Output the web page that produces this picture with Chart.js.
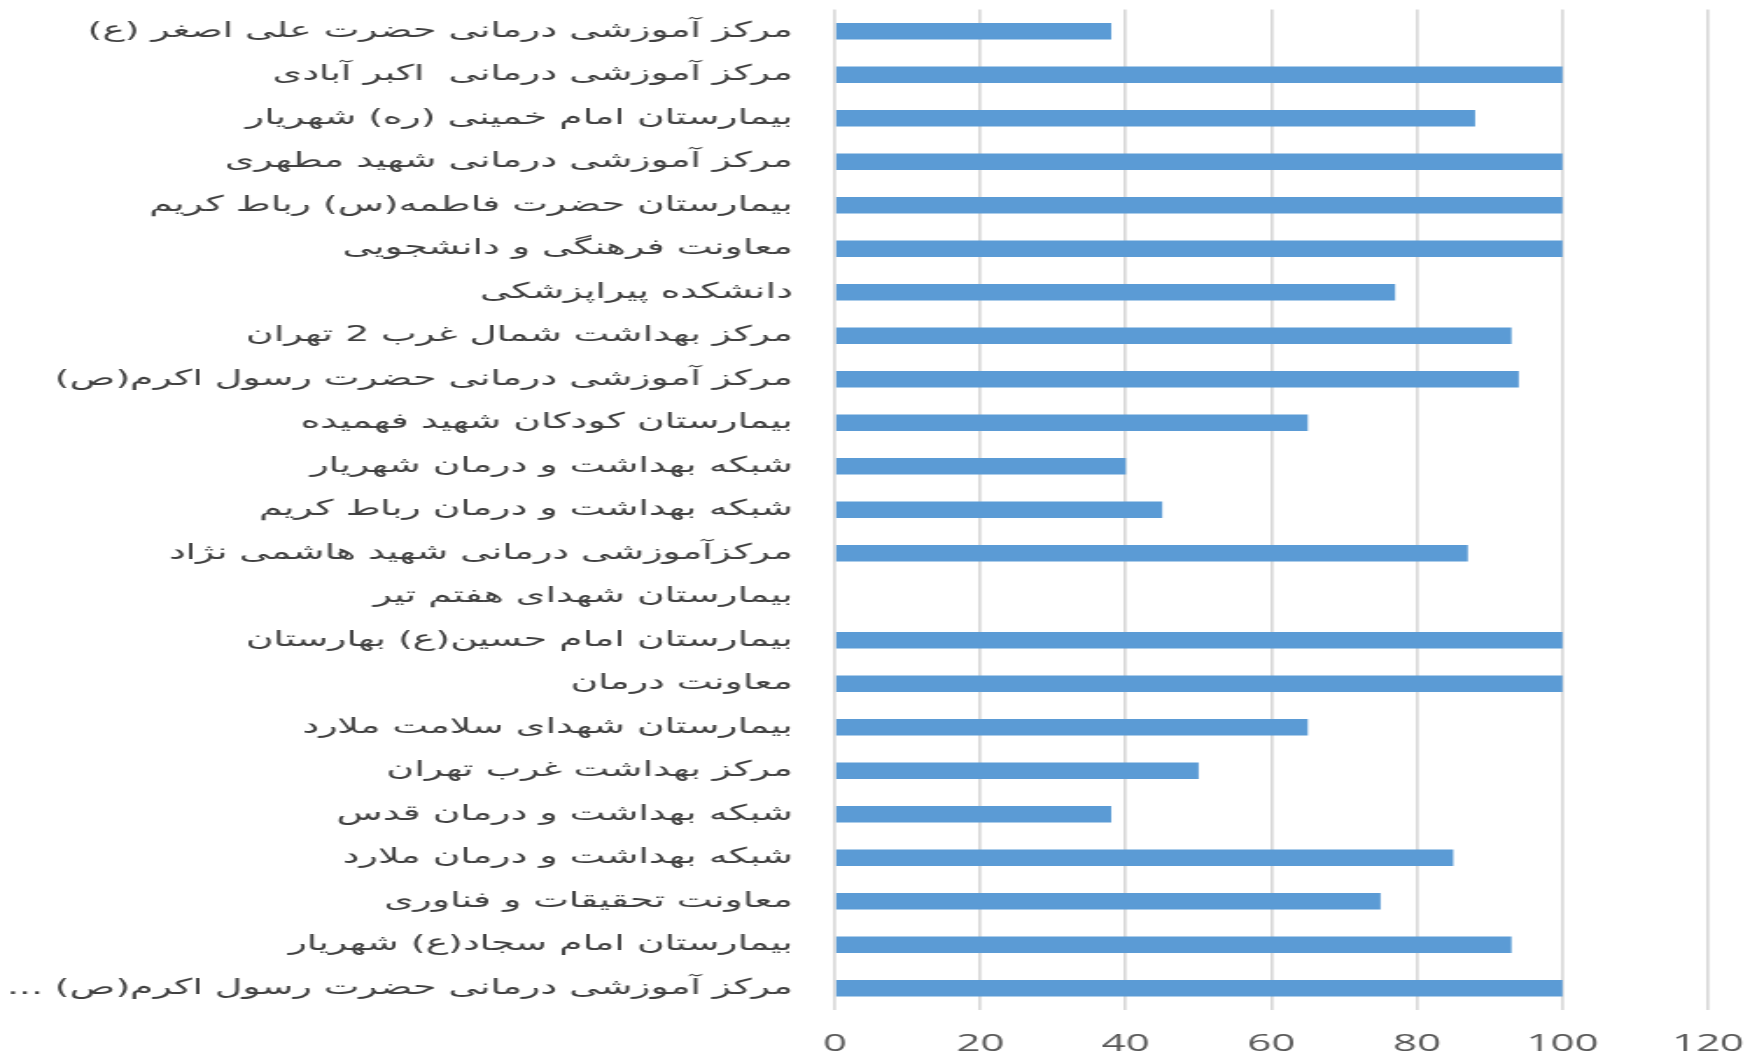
<!DOCTYPE html>
<html>
<head>
<meta charset="utf-8">
<script src="https://cdn.jsdelivr.net/npm/chart.js@4/dist/chart.umd.min.js"></script>
<style>
html,body{margin:0;padding:0;background:#fff;overflow:hidden;}
#wrap{width:1753px;height:1056px;position:relative;overflow:hidden;}
#c{position:absolute;left:0;top:0;transform:scaleX(1.75);transform-origin:0 0;}
</style>
</head>
<body>
<div id="wrap"><canvas id="c" dir="rtl" width="1002" height="1056"></canvas></div>
<script>
const categories = [
  "مرکز آموزشی درمانی حضرت علی اصغر (ع)",
  "مرکز آموزشی درمانی  اکبر آبادی",
  "بیمارستان امام خمینی (ره) شهریار",
  "مرکز آموزشی درمانی شهید مطهری",
  "بیمارستان حضرت فاطمه(س) رباط کریم",
  "معاونت فرهنگی و دانشجویی",
  "دانشکده پیراپزشکی",
  "مرکز بهداشت شمال غرب 2 تهران",
  "مرکز آموزشی درمانی حضرت رسول اکرم(ص)",
  "بیمارستان کودکان شهید فهمیده",
  "شبکه بهداشت و درمان شهریار",
  "شبکه بهداشت و درمان رباط کریم",
  "مرکزآموزشی درمانی شهید هاشمی نژاد",
  "بیمارستان شهدای هفتم تیر",
  "بیمارستان امام حسین(ع) بهارستان",
  "معاونت درمان",
  "بیمارستان شهدای سلامت ملارد",
  "مرکز بهداشت غرب تهران",
  "شبکه بهداشت و درمان قدس",
  "شبکه بهداشت و درمان ملارد",
  "معاونت تحقیقات و فناوری",
  "بیمارستان امام سجاد(ع) شهریار",
  "مرکز آموزشی درمانی حضرت رسول اکرم(ص) ..."
];
const values = [38, 100, 88, 100, 100, 100, 77, 93, 94, 65, 40, 45, 87, 0, 100, 100, 65, 50, 38, 85, 75, 93, 100];
const xTicks = [0, 20, 40, 60, 80, 100, 120];

const ctx = document.getElementById('c');
new Chart(ctx, {
  type: 'bar',
  data: {
    labels: categories,
    datasets: [{
      data: values,
      backgroundColor: '#5b9bd5',
      borderWidth: 0,
      barPercentage: 0.38,
      categoryPercentage: 1.0
    }]
  },
  options: {
    indexAxis: 'y',
    responsive: false,
    animation: false,
    plugins: { legend: { display: false }, tooltip: { enabled: false } },
    layout: { padding: { top: 9.5, right: 26, left: 0, bottom: 0 } },
    scales: {
      x: {
        min: xTicks[0],
        max: xTicks[xTicks.length - 1],
        afterBuildTicks: (s) => { s.ticks = xTicks.map(v => ({ value: v })); },
        afterFit: (s) => { s.height = 46; s.paddingLeft = 0; s.paddingRight = 0; },
        grid: { color: '#d9d9d9', lineWidth: 1.7, drawTicks: false },
        border: { display: false },
        ticks: {
          padding: 20,
          color: '#595959',
          font: { family: 'Open Sans', size: 24 }
        }
      },
      y: {
        afterFit: (s) => { s.width = 477; s.paddingTop = 0; s.paddingBottom = 0; },
        grid: { display: false },
        border: { display: false },
        ticks: {
          padding: 16,
          autoSkip: false,
          color: '#404040',
          font: { family: 'DejaVu Sans', size: 21.6 }
        }
      }
    }
  }
});
</script>
</body>
</html>
